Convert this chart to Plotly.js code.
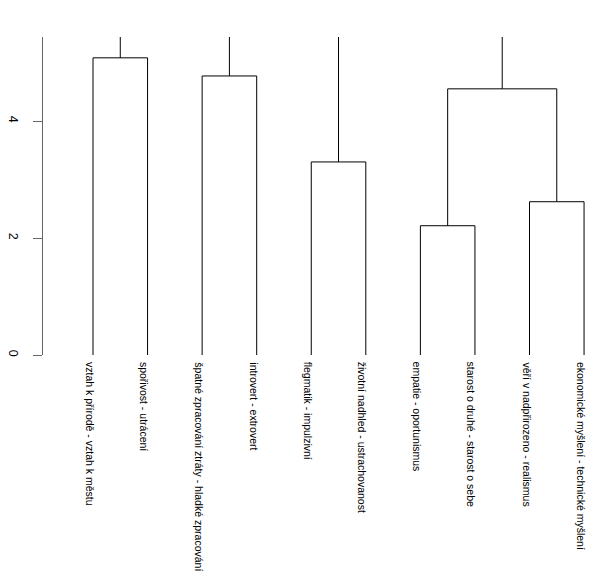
<!DOCTYPE html>
<html>
<head>
<meta charset="utf-8">
<script src="https://cdn.plot.ly/plotly-3.0.1.min.js"></script>
<style>html,body{margin:0;padding:0;background:#fff;}#chart{width:615px;height:576px;}</style>
</head>
<body>
<div id="chart"></div>
<script>
// Leaf labels in dendrogram order (left to right)
const leafLabels = [
  "vztah k přírodě - vztah k městu",
  "spořivost - utrácení",
  "špatné zpracování ztráty - hladké zpracování",
  "introvert - extrovert",
  "flegmatik - impulzivní",
  "životní nadhled - ustrachovanost",
  "empatie - oportunismus",
  "starost o druhé - starost o sebe",
  "věří v nadpřirozeno - realismus",
  "ekonomické myšlení - technické myšlení"
];
// Merge steps (negative = leaf index 1-based, positive = earlier merge step)
const mergeLeft  = [-7, -9, -5, 1, -3, -1, 6, 3, 7];
const mergeRight = [-8, -10, -6, 2, -4, -2, 5, 4, 8];
// Merge heights (upper three lie above the visible range)
const mergeHeight = [2.21, 2.62, 3.30, 4.55, 4.77, 5.08, 6.0, 6.6, 7.4];
const yTicks = [0, 2, 4];

const xs = [], ys = [];
const pos = [], hgt = [];
function nodeInfo(id) {
  if (id < 0) return {x: -id, h: 0};
  return {x: pos[id - 1], h: hgt[id - 1]};
}
for (let i = 0; i < mergeLeft.length; i++) {
  const a = nodeInfo(mergeLeft[i]);
  const b = nodeInfo(mergeRight[i]);
  const h = mergeHeight[i];
  xs.push(a.x, a.x, b.x, b.x, null);
  ys.push(a.h, h, h, b.h, null);
  pos.push((a.x + b.x) / 2);
  hgt.push(h);
}

const traces = [{
  x: xs, y: ys, type: 'scatter', mode: 'lines',
  line: {color: '#000000', width: 1},
  hoverinfo: 'skip', showlegend: false
}];

const annotations = leafLabels.map((t, i) => ({
  x: i + 1, y: 0, xref: 'x', yref: 'y',
  text: t, textangle: 90, showarrow: false,
  xanchor: 'center', yanchor: 'top', yshift: -5, xshift: -3,
  font: {family: 'Liberation Sans, Arial, sans-serif', size: 10.5, color: '#000'}
}));

const layout = {
  width: 615, height: 576,
  margin: {l: 43, r: 0, t: 37, b: 221, pad: 0},
  paper_bgcolor: '#ffffff', plot_bgcolor: '#ffffff',
  showlegend: false,
  xaxis: {
    range: [0.0836, 10.567], showgrid: false, zeroline: false,
    showline: false, showticklabels: false, ticks: ''
  },
  yaxis: {
    range: [0, 5.436], showgrid: false, zeroline: false,
    showline: true, linecolor: '#666666', linewidth: 1,
    ticks: 'outside', ticklen: 9, tickcolor: '#666666', tickwidth: 1,
    tickvals: yTicks, ticktext: yTicks.map(String), tickangle: 90,
    ticklabelstandoff: 9,
    tickfont: {family: 'Liberation Sans, Arial, sans-serif', size: 12.5, color: '#000'}
  },
  annotations: annotations
};

Plotly.newPlot('chart', traces, layout, {staticPlot: true, displayModeBar: false});
</script>
</body>
</html>
